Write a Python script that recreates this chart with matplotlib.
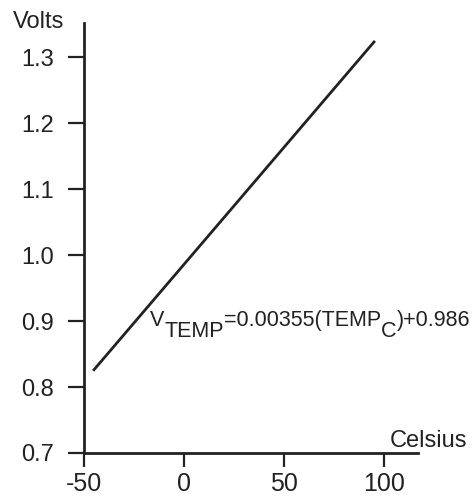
import numpy as np
import matplotlib.pyplot as plt

plt.rcParams['font.family'] = ['Liberation Sans', 'DejaVu Sans']

# data
celsius = [-45, 95]
slope = 0.00355
offset = 0.986
volts = [slope * c + offset for c in celsius]
xticks = [-50, 0, 50, 100]
yticks = [0.7, 0.8, 0.9, 1.0, 1.1, 1.2, 1.3]

fig = plt.figure(figsize=(4.76, 4.96), dpi=100)
ax = fig.add_axes([84 / 476, 43 / 496, 334 / 476, 430 / 496])
ink = '#222222'

ax.plot(celsius, volts, color=ink, lw=2)

ax.set_xlim(-50, 117)
ax.set_ylim(0.7, 1.352)
ax.set_xticks(xticks)
ax.set_yticks(yticks)
ax.set_xticklabels([str(t) for t in xticks])
ax.set_yticklabels([f'{t:.1f}' for t in yticks])
for s in ['top', 'right']:
    ax.spines[s].set_visible(False)
for s in ['left', 'bottom']:
    ax.spines[s].set_linewidth(2)
    ax.spines[s].set_color(ink)
ax.tick_params(axis='y', length=11.5, width=1.6, pad=10, labelsize=17, color=ink, labelcolor=ink)
ax.tick_params(axis='x', length=10, width=1.6, pad=3.5, labelsize=18, color=ink, labelcolor=ink)

fig.text(13 / 476, 1 - 28 / 496, 'Volts', fontsize=17, color=ink, va='baseline', ha='left')
fig.text(467 / 476, 1 - 447 / 496, 'Celsius', fontsize=17, color=ink, va='baseline', ha='right')

# equation with full-size subscripts
pieces = [('V', 0), ('TEMP', -7.9), ('=0.00355(TEMP', 7.9), ('C', -7.9), (')+0.986', 7.9)]
prev = ax.text(-17, 0.8924, pieces[0][0], fontsize=15.5, color=ink, va='baseline', ha='left')
for s, dy in pieces[1:]:
    prev = ax.annotate(s, xy=(1, 0), xycoords=prev, xytext=(0, dy), textcoords='offset points',
                       fontsize=15.5, color=ink, va='bottom', ha='left')

fig.savefig('out.png', dpi=100)
